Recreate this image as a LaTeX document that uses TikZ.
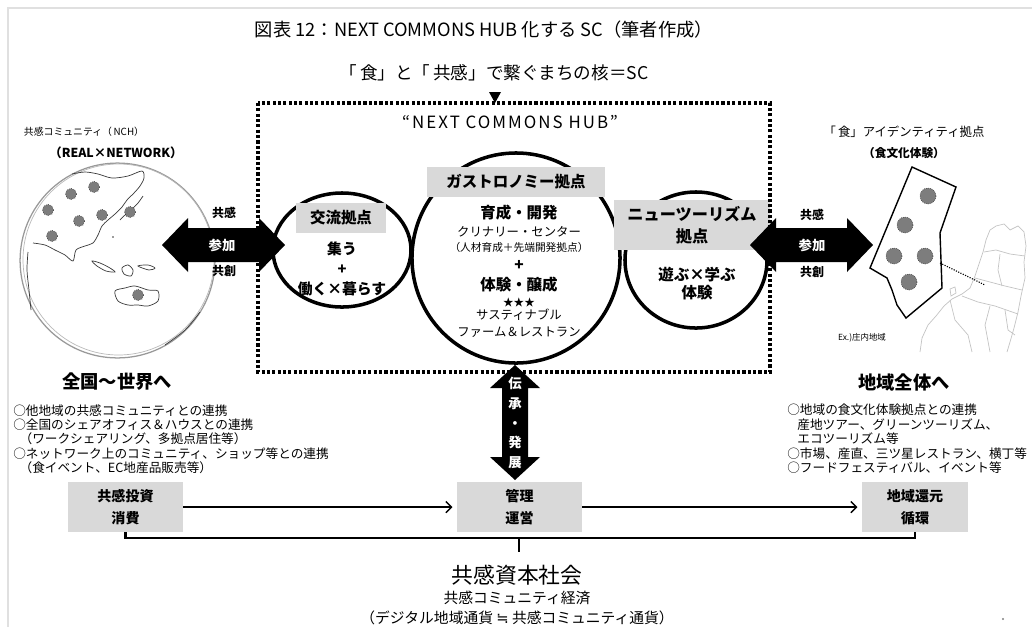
\documentclass[tikz,border=0pt]{standalone}
\usepackage{fontspec}
\setmainfont{Noto Sans CJK JP}
\newfontfamily\hubfont[LetterSpace=12]{Noto Sans CJK JP}
\newfontfamily\symfont{DejaVu Sans}
\usetikzlibrary{shapes.geometric, arrows.meta, positioning, calc}
\definecolor{tagfill}{RGB}{217,217,217}
\definecolor{spotgray}{RGB}{125,125,125}
\definecolor{mapgray}{RGB}{195,195,195}

\begin{document}
\begin{tikzpicture}[x=0.025cm, y=-0.025cm,
    hubring/.style={ellipse, draw, line width=2.5pt, inner sep=0pt},
    tag/.style={fill=tagfill, inner sep=0pt, align=center, font=\bfseries\fontsize{11}{14}\selectfont},
    big/.style={font=\bfseries\fontsize{11}{14.2}\selectfont, inner sep=0pt},
    small/.style={font=\fontsize{8.8}{12}\selectfont, inner sep=0pt},
    spot/.style={circle, fill=spotgray, draw=black!85, densely dotted, thin, inner sep=0pt, minimum size=0.28cm},
    bigspot/.style={spot, minimum size=0.4cm},
    arrowtxt/.style={text=white, font=\bfseries\fontsize{9.5}{14}\selectfont, inner sep=0pt},
    sidetxt/.style={font=\bfseries\fontsize{8.5}{10}\selectfont, inner sep=0pt},
    listtxt/.style={anchor=north west, inner sep=0pt, align=left, font=\fontsize{9}{10.3}\selectfont},
    flowbox/.style={fill=tagfill, inner sep=0pt, minimum height=1.25cm, align=center, font=\bfseries\fontsize{10}{16}\selectfont},
    flow/.style={line width=1pt, -{Straight Barb[length=4pt,width=8pt]}, shorten >=3pt},
    brace/.style={line width=1.8pt}
]
\useasboundingbox (0,0) rectangle (1032,627);

% page frame
\draw[black!12, line width=1.5pt] (8,627) -- (8,8) -- (1032,8);

% headings
\node[font=\fontsize{13}{15}\selectfont] (title) at (484,30) {図表 12：NEXT COMMONS HUB 化する SC（筆者作成）};
\node[font=\fontsize{12.5}{15}\selectfont] (motto) at (494,73) {「\,食」と「\,共感」で繋ぐまちの核＝SC};

% the three bases
\node[hubring, minimum width=3.45cm, minimum height=2.85cm] (meet) at (342,250) {};
\node[hubring, minimum width=5.2cm, minimum height=5.25cm] (gastro) at (516,258) {};
\node[hubring, minimum width=3.55cm, minimum height=3.4cm] (tour) at (696,260) {};

\node[tag, minimum width=2.225cm, minimum height=0.75cm] (meettag) at (341,218) {交流拠点};
\node[tag, minimum width=4.425cm, minimum height=0.75cm] (gastrotag) at (516,182) {ガストロノミー拠点};
\node[tag, minimum width=3.875cm, minimum height=1.25cm, font=\bfseries\fontsize{11.5}{16}\selectfont] (tourtag) at (692,225) {ニューツーリズム\\拠点};

\node[big, align=center, font=\bfseries\fontsize{10.5}{14}\selectfont] (meettxt) at (342,269) {集う\\+\\働く×暮らす};

\node[big] (grow) at (519,213) {育成・開発};
\node[small] (culin) at (519,232) {クリナリー・センター};
\node[font=\fontsize{7.6}{9}\selectfont, inner sep=0pt] (lab) at (519,247) {（人材育成＋先端開発拠点）};
\node[big] (plus) at (519,265) {+};
\node[big] (taste) at (519,285) {体験・醸成};
\node[font=\fontsize{7.5}{9}\selectfont, inner sep=0pt] (stars) at (519,302) {★★★};
\node[small, align=center] (farm) at (519,323) {サスティナブル\\ファーム＆レストラン};

\node[big, align=center, font=\bfseries\fontsize{11}{12.8}\selectfont] (play) at (697,284) {遊ぶ×学ぶ\\体験};

% dotted hub frame
\draw[line width=2.2pt, dash pattern=on 2.2pt off 1.6pt] (258,103) rectangle (770,372);
\fill (489,92) -- (501,92) -- (495,103) -- cycle;
\node[font=\hubfont\fontsize{12}{14}\selectfont] (hub) at (510,122) {“NEXT COMMONS HUB”};

% globe
\node[circle, draw=gray!80, line width=0.9pt, minimum size=4.87cm, inner sep=0pt] (globe) at (117.5,260.5) {};
\draw[gray!55, line width=0.5pt] (118.5,259.5) circle[radius=95.5];
\begin{scope}[gray!45!black, line width=0.5pt]
  % Asia
  \draw plot[smooth] coordinates {(72,174) (85,172) (98,174) (112,178) (128,176) (142,171) (144,178) (140,186) (134,193) (127,200) (122,207) (115,214) (108,220) (102,226) (98,235) (93,243) (85,246) (76,250) (73,261) (65,255) (55,250) (45,245) (33,243)};
  \draw plot[smooth] coordinates {(28,252) (27,270) (29,290) (31,310)};
  % Japan
  \draw plot[smooth] coordinates {(143,196) (138,203) (131,210) (125,215) (120,220)};
  \fill (113,237) circle[radius=0.8];
  % islands and Australia
  \draw plot[smooth cycle] coordinates {(92,261) (100,263) (110,268) (115,272) (106,271) (97,266)};
  \draw plot[smooth cycle] coordinates {(122,268) (128,265) (133,270) (131,276) (124,274)};
  \draw plot[smooth cycle] coordinates {(138,266) (148,265) (155,268) (149,270)};
  \draw plot[smooth cycle] coordinates {(115,291) (125,288) (135,286) (148,290) (158,291) (158,301) (148,306) (138,305) (128,305) (118,301)};
  \draw plot[smooth] coordinates {(165,345) (185,330) (200,312)};
\end{scope}
\foreach \p in {(94,187),(71,194),(48,210),(102,215),(79,221),(52,236),(130,212),(138,295)}
  \node[spot] at \p {};

\node[font=\fontsize{7}{8}\selectfont] (nch) at (84,132) {共感コミュニティ（\,NCH）};
\node[font=\bfseries\fontsize{8.8}{10}\selectfont] (realnet) at (116,153) {（REAL×NETWORK）};
\node[font=\bfseries\fontsize{13}{15}\selectfont] (world) at (117,382) {全国〜世界へ};

% Tohoku map
\begin{scope}[mapgray, line width=0.5pt]
  \draw (920,352) -- (922,338) -- (928,325) -- (936,316) -- (944,306) -- (952,299) -- (962,294) -- (970,288) -- (975,276) -- (979,264) -- (983,252) -- (986,240) -- (990,230) -- (996,226) -- (1004,224) -- (1010,230) -- (1018,226) -- (1024,232) -- (1026,246) -- (1024,262) -- (1025,278) -- (1021,296) -- (1018,312) -- (1014,328) -- (1010,342) -- (1007,352);
  \draw (984,252) -- (996,250) -- (1010,254) -- (1025,256);
  \draw (975,278) -- (990,282) -- (1005,286) -- (1022,290);
  \draw (962,296) -- (978,302) -- (995,306) -- (1018,314);
  \draw (1000,254) -- (998,270) -- (1002,286);
  \draw (990,306) -- (985,325) -- (990,352);
  \draw (950,300) -- (955,320) -- (968,335) -- (972,352);
  \draw (1005,310) -- (1008,330) -- (1015,335);
  \draw (950,289) -- (955,287) -- (956,293) -- (951,296) -- cycle;
\end{scope}

% Shonai region
\draw[fill=white, line width=1pt] (912,167) -- (956,187) -- (940,233) -- (942,288) -- (906,318) -- (897,305) -- (892,290) -- (887,278) -- (870,268) -- cycle;
\foreach \p in {(928,196),(905,225),(894,256),(925,256),(909,282)}
  \node[bigspot] at \p {};
\coordinate (shonai) at (940,263);
\coordinate (tohoku) at (985,285);
\draw[densely dotted, line width=0.8pt] (shonai) -- (tohoku);

\node[font=\fontsize{8.8}{10}\selectfont] (food) at (904,132) {「\,食」アイデンティティ拠点};
\node[font=\bfseries\fontsize{8.3}{10}\selectfont] (foodexp) at (904,153) {（食文化体験）};
\node[font=\fontsize{6}{7}\selectfont] (shonaitxt) at (862,338) {Ex.)庄内地域};
\node[font=\bfseries\fontsize{13}{15}\selectfont] (region) at (904,382) {地域全体へ};

% join arrows
\fill (162,245) -- (188,218) -- (188,228) -- (259,228) -- (259,218) -- (285,245) -- (259,272) -- (259,262) -- (188,262) -- (188,272) -- cycle;
\node[arrowtxt] (joinL) at (222,245) {参加};
\node[sidetxt] (empL) at (224,213) {共感};
\node[sidetxt] (coL) at (224,271) {共創};

\fill (750,245) -- (776,218) -- (776,228) -- (847,228) -- (847,218) -- (873,245) -- (847,272) -- (847,262) -- (776,262) -- (776,272) -- cycle;
\node[arrowtxt] (joinR) at (812,245) {参加};
\node[sidetxt] (empR) at (812,215) {共感};
\node[sidetxt] (coR) at (812,272) {共創};

\fill (515,365) -- (540,388) -- (528,388) -- (528,457) -- (540,457) -- (515,480) -- (490,457) -- (502,457) -- (502,388) -- (490,388) -- cycle;
\node[arrowtxt, align=center] (pass) at (515,423) {伝\\承\\・\\発\\展};

% lists
\node[listtxt] (farlist) at (13,404) {○他地域の共感コミュニティとの連携\\○全国のシェアオフィス＆ハウスとの連携\\\hspace*{0.5em}（ワークシェアリング、多拠点居住等）\\○ネットワーク上のコミュニティ、ショップ等との連携\\\hspace*{0.5em}（食イベント、EC地産品販売等）};
\node[listtxt] (nearlist) at (787,404) {○地域の食文化体験拠点との連携\\\hspace*{0.8em}産地ツアー、グリーンツーリズム、\\\hspace*{0.8em}エコツーリズム等\\○市場、産直、三ツ星レストラン、横丁等\\○フードフェスティバル、イベント等};

% flow
\node[flowbox, minimum width=2.875cm] (invest) at (125.5,507) {共感投資\\消費};
\node[flowbox, minimum width=3.125cm] (manage) at (519.5,507) {管理\\運営};
\node[flowbox, minimum width=2.65cm] (circ) at (915,507) {地域還元\\循環};
\draw[flow] (invest) -- (manage);
\draw[flow] (manage) -- (circ);

\coordinate (brk) at (519,538);
\coordinate (stem) at (519,552);
\draw[brace] (invest.south) |- (brk) -| (circ.south);
\draw[brace] (brk) -- (stem);

\node[font=\fontsize{15.5}{18}\selectfont] (society) at (517,575) {共感資本社会};
\node[font=\fontsize{10.5}{12}\selectfont] (economy) at (517,598) {共感コミュニティ経済};
\node[font=\fontsize{10.5}{12}\selectfont] (currency) at (517,618) {（デジタル地域通貨 {\symfont ≒} 共感コミュニティ通貨）};
\fill[gray] (1003,619) circle[radius=1.2];
\end{tikzpicture}
\end{document}
